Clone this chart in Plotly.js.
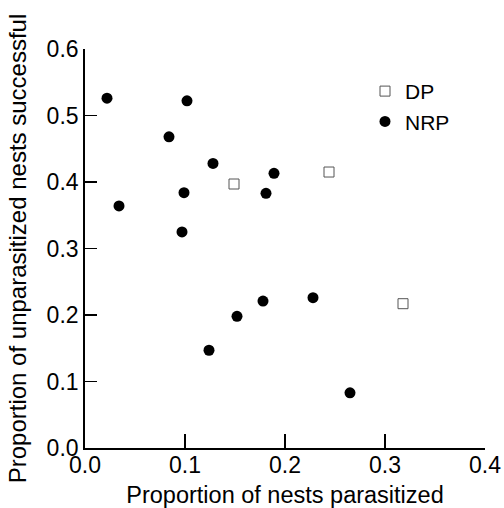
<!DOCTYPE html>
<html>
<head>
<meta charset="utf-8">
<script src="https://cdn.plot.ly/plotly-3.0.1.min.js"></script>
<style>html,body{margin:0;padding:0;background:#fff;}#chart{width:504px;height:508px;}</style>
</head>
<body>
<div id="chart"></div>
<script>
// Data
const dpX = [0.149, 0.244, 0.318];
const dpY = [0.397, 0.415, 0.217];
const nrpX = [0.022, 0.102, 0.084, 0.128, 0.189, 0.099, 0.181, 0.034, 0.097, 0.124, 0.152, 0.178, 0.228, 0.265];
const nrpY = [0.526, 0.522, 0.468, 0.428, 0.413, 0.384, 0.383, 0.364, 0.325, 0.147, 0.198, 0.221, 0.226, 0.083];
const xTicks = [0.0, 0.1, 0.2, 0.3, 0.4];
const yTicks = [0.0, 0.1, 0.2, 0.3, 0.4, 0.5, 0.6];
const seriesNames = ["DP", "NRP"];
const xTitle = "Proportion of nests parasitized";
const yTitle = "Proportion of unparasitized nests successful";

const FONT = "Liberation Sans, Arial, sans-serif";

const traces = [
  {
    x: dpX, y: dpY, name: seriesNames[0], type: "scatter", mode: "markers",
    marker: {symbol: "square-open", size: 10, color: "#555", line: {width: 1, color: "#555"}}
  },
  {
    x: nrpX, y: nrpY, name: seriesNames[1], type: "scatter", mode: "markers",
    marker: {symbol: "circle", size: 11, color: "#000"}
  }
];

const layout = {
  width: 504, height: 508,
  margin: {l: 85, r: 19, t: 49, b: 60, pad: 0},
  paper_bgcolor: "#fff", plot_bgcolor: "#fff",
  font: {family: FONT, size: 23, color: "#000"},
  showlegend: true,
  legend: {x: 0.70, y: 0.945, xanchor: "left", yanchor: "top", bgcolor: "rgba(0,0,0,0)",
           font: {family: FONT, size: 21, color: "#000"}, tracegroupgap: 0, itemwidth: 30},
  xaxis: {
    range: [0, 0.4], tickvals: xTicks, ticktext: xTicks.map(v => v.toFixed(1)),
    showline: true, linecolor: "#000", linewidth: 1.8, mirror: false,
    ticks: "inside", ticklen: 14, tickwidth: 1.5, tickcolor: "#000",
    showgrid: false, zeroline: false, automargin: false,
    ticklabelstandoff: -4,
    tickfont: {family: FONT, size: 23, color: "#000"},
    title: {text: xTitle, font: {family: FONT, size: 23.5, color: "#000"}}
  },
  yaxis: {
    range: [0, 0.6], tickvals: yTicks, ticktext: yTicks.map(v => v.toFixed(1)),
    showline: true, linecolor: "#000", linewidth: 1.8, mirror: false,
    ticks: "inside", ticklen: 12, tickwidth: 1.5, tickcolor: "#000",
    showgrid: false, zeroline: false, automargin: false,
    tickfont: {family: FONT, size: 23, color: "#000"},
    title: {text: yTitle, font: {family: FONT, size: 24, color: "#000"}}
  }
};

Plotly.newPlot("chart", traces, layout, {displayModeBar: false, staticPlot: true});
</script>
</body>
</html>
